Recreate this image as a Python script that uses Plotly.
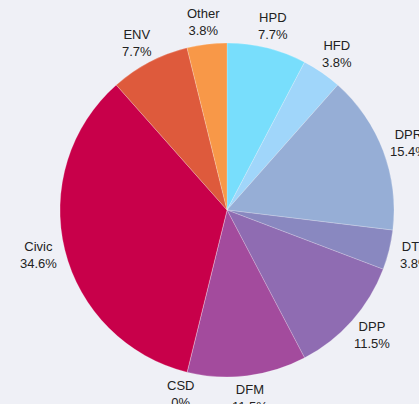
import math
import plotly.graph_objects as go

labels = ["HPD", "HFD", "DPR", "DTS", "DPP", "DFM", "CSD", "Civic", "ENV", "Other"]
values = [2, 1, 4, 1, 3, 3, 0, 9, 2, 1]
colors = ["#78defc", "#a0d6fa", "#96aed6", "#8988c0", "#8f6cb2",
          "#a34b9d", "#b5307a", "#c8004a", "#de5a3c", "#f89848"]

W, H = 419, 404
CX, CY, R = 227, 210, 167      # pie centre / radius in pixels
LABEL_RX, LABEL_RY = 194, 189  # label ring (slightly elliptical)

total = sum(values)
pcts = [v / total * 100 for v in values]
pct_txt = ["0%" if p == 0 else f"{p:.1f}%" for p in pcts]

fig = go.Figure(go.Pie(
    labels=labels,
    values=values,
    sort=False,
    direction="clockwise",
    rotation=0,
    marker=dict(colors=colors, line=dict(color="rgba(255,255,255,0.35)", width=0.6)),
    textinfo="none",
    domain=dict(x=[(CX - R) / W, (CX + R) / W], y=[(H - CY - R) / H, (H - CY + R) / H]),
    showlegend=False,
    hoverinfo="label+percent",
))

annotations = []
cum = 0.0
for lab, v, pt in zip(labels, values, pct_txt):
    mid = (cum + v / 2) / total * 2 * math.pi
    cum += v
    px = CX + LABEL_RX * math.sin(mid)
    py = CY - LABEL_RY * math.cos(mid)
    annotations.append(dict(
        x=px / W, y=1 - py / H, xref="paper", yref="paper",
        text=f"{lab}<br>{pt}", showarrow=False,
        xanchor="center", yanchor="middle", align="center",
        font=dict(family="Liberation Sans, Arial, sans-serif", size=13, color="#222222"),
    ))

fig.update_layout(
    width=W, height=H,
    margin=dict(l=0, r=0, t=0, b=0),
    paper_bgcolor="#eff0f6",
    plot_bgcolor="#eff0f6",
    annotations=annotations,
)

fig.write_html(
    "out.html",
    config={"displayModeBar": False},
    post_script="document.body.style.margin='0';document.body.style.overflow='hidden';"
                "document.body.style.background='#eff0f6';",
)
